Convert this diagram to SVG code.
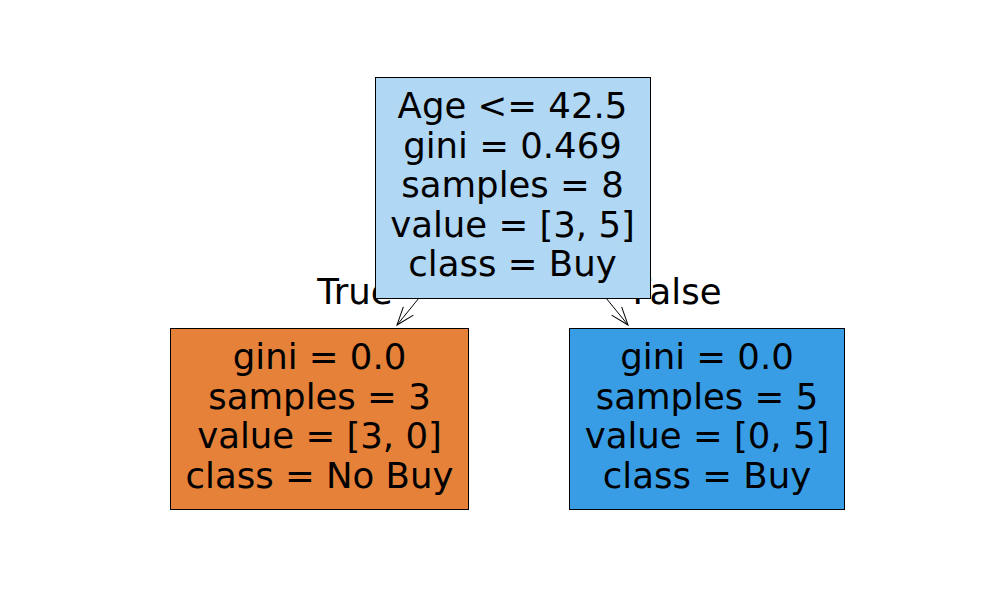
<svg xmlns="http://www.w3.org/2000/svg" width="1000" height="600" viewBox="0 0 1000 600">
<style>
text{font-family:"DejaVu Sans",sans-serif;font-size:35.5px;fill:#000;text-anchor:middle}
.box{stroke:#000;stroke-width:1}
.edge{stroke:#000;stroke-width:1;fill:none}
</style>
<defs>
<marker id="ah" viewBox="0 0 22 22" refX="20" refY="11" markerWidth="22" markerHeight="22" markerUnits="userSpaceOnUse" orient="auto">
<path d="M2,4.5 L20,11 L2,17.5" fill="none" stroke="#000" stroke-width="1"/>
</marker>
</defs>
<rect width="1000" height="600" fill="#fff"/>
<g id="edge-labels">
<text x="355" y="304">True</text>
<text x="677" y="304">False</text>
</g>
<g id="connectors">
<line class="edge" x1="419" y1="298" x2="397" y2="325" marker-end="url(#ah)"/>
<line class="edge" x1="606" y1="298" x2="628" y2="325" marker-end="url(#ah)"/>
</g>
<g id="root">
<rect class="box" x="375.5" y="77.5" width="275" height="221" fill="#b0d7f4"/>
<text x="512.5" y="118">Age &lt;= 42.5</text>
<text x="512.5" y="158">gini = 0.469</text>
<text x="512.5" y="197">samples = 8</text>
<text x="512.5" y="237">value = [3, 5]</text>
<text x="512.5" y="276">class = Buy</text>
</g>
<g id="left">
<rect class="box" x="170.5" y="328.5" width="298" height="181" fill="#e58139"/>
<text x="319.5" y="369">gini = 0.0</text>
<text x="319.5" y="409">samples = 3</text>
<text x="319.5" y="448">value = [3, 0]</text>
<text x="319.5" y="488">class = No Buy</text>
</g>
<g id="right">
<rect class="box" x="569.5" y="328.5" width="275" height="181" fill="#399de5"/>
<text x="707" y="369">gini = 0.0</text>
<text x="707" y="409">samples = 5</text>
<text x="707" y="448">value = [0, 5]</text>
<text x="707" y="488">class = Buy</text>
</g>
</svg>
